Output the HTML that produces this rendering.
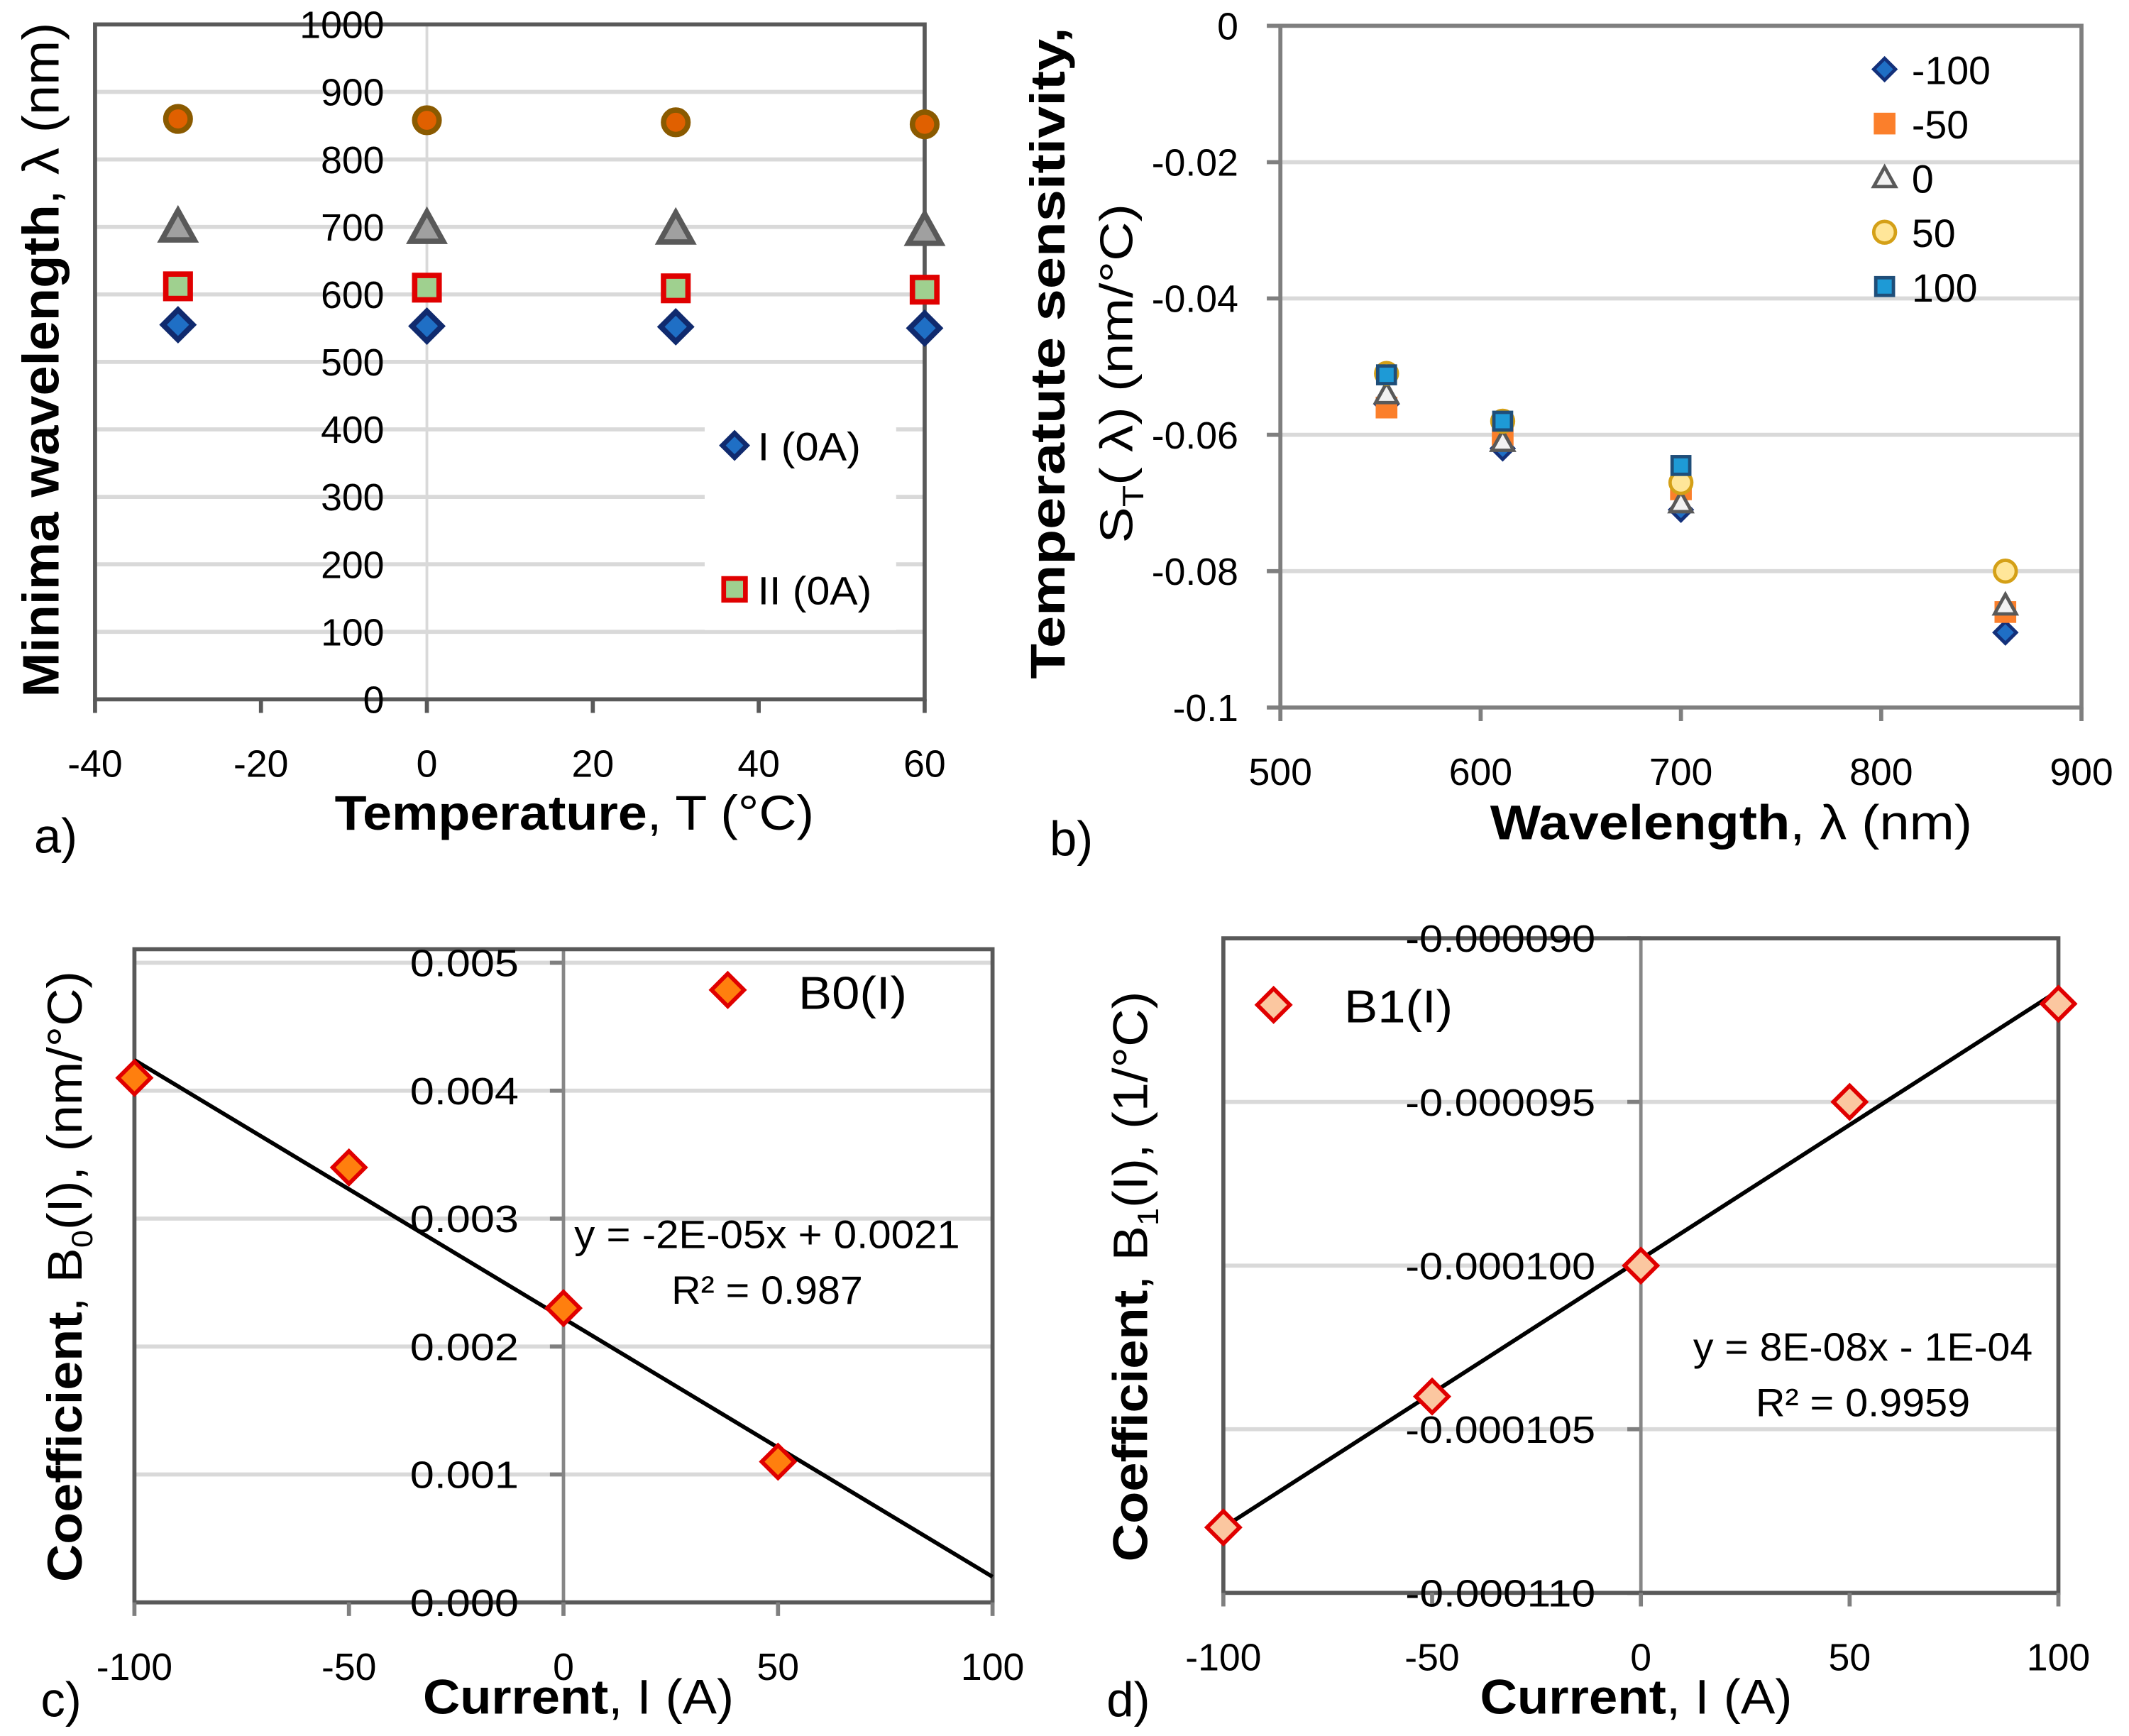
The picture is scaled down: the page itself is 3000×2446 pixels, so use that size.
<!DOCTYPE html>
<html><head><meta charset="utf-8"><style>
html,body{margin:0;padding:0;background:#fff;}
svg{display:block;font-family:"Liberation Sans",sans-serif;}
</style></head><body>
<svg id="fig" width="3000" height="2446" viewBox="0 0 1568 1278.4" preserveAspectRatio="none" xmlns="http://www.w3.org/2000/svg">
<g id="pa"></g>
<g id="pb"></g>
<g id="pc"></g>
<g id="pd"></g>
</svg>
<script>
// ---------- Panel a data ----------
const aTemps = [-30, 0, 30, 60];
const aDiamond = [555, 553, 552, 550];
const aSquare = [612, 610, 609, 607];
const aTriangle = [700, 698, 697, 695];
const aCircle = [860, 858, 855, 852];
const aXTicks = [-40, -20, 0, 20, 40, 60];
const aYTicks = [0, 100, 200, 300, 400, 500, 600, 700, 800, 900, 1000];
// ---------- Panel b data ----------
const bWave = [553, 611, 700, 862];
const bM100 = [-0.0555, -0.062, -0.071, -0.089];
const bM50 = [-0.0560, -0.060, -0.068, -0.086];
const bZero = [-0.0540, -0.061, -0.070, -0.085];
const bP50 = [-0.0510, -0.058, -0.067, -0.080];
const bP100 = [-0.0512, -0.058, -0.0645, null];
const bXTicks = [500, 600, 700, 800, 900];
const bYTicks = [0, -0.02, -0.04, -0.06, -0.08, -0.1];
const bYLabels = ["0", "-0.02", "-0.04", "-0.06", "-0.08", "-0.1"];
const bLegend = ["-100", "-50", "0", "50", "100"];
// ---------- Panel c data ----------
const cCurrent = [-100, -50, 0, 50];
const cB0 = [0.0041, 0.0034, 0.0023, 0.0011];
const cXTicks = [-100, -50, 0, 50, 100];
const cYTicks = [0, 0.001, 0.002, 0.003, 0.004, 0.005];
const cYLabels = ["0.000", "0.001", "0.002", "0.003", "0.004", "0.005"];
// ---------- Panel d data ----------
const dCurrent = [-100, -50, 0, 50, 100];
const dB1 = [-0.000108, -0.000104, -0.000100, -0.000095, -0.000092];
const dXTicks = [-100, -50, 0, 50, 100];
const dYTicks = [-0.000110, -0.000105, -0.000100, -0.000095, -0.000090];
const dYLabels = ["-0.000110", "-0.000105", "-0.000100", "-0.000095", "-0.000090"];

const NS = "http://www.w3.org/2000/svg";
function mk(parent, tag, attrs, txt) {
  const e = document.createElementNS(NS, tag);
  for (const k in attrs) e.setAttribute(k, attrs[k]);
  if (txt !== undefined) e.textContent = txt;
  parent.appendChild(e);
  return e;
}
function lin(d0, d1, r0, r1) { return v => r0 + (v - d0) * (r1 - r0) / (d1 - d0); }
function marker(g, type, x, y, s, fill, stroke, sw) {
  let e;
  if (type === "diamond") e = mk(g, "polygon", {points: `${x},${y-s} ${x+s},${y} ${x},${y+s} ${x-s},${y}`, fill, stroke, "stroke-width": sw});
  else if (type === "square") e = mk(g, "rect", {x: x-s, y: y-s, width: 2*s, height: 2*s, fill, stroke, "stroke-width": sw});
  else if (type === "triangle") e = mk(g, "polygon", {points: `${x},${y-s} ${x+s},${y+s*0.8} ${x-s},${y+s*0.8}`, fill, stroke, "stroke-width": sw});
  else e = mk(g, "circle", {cx: x, cy: y, r: s, fill, stroke, "stroke-width": sw});
  return e;
}
function txt(g, x, y, s, opts) {
  return mk(g, "text", Object.assign({x, y, "font-size": 28, fill: "#000"}, opts || {}), s);
}
function fitLen(opts, len) {
  return Object.assign(opts, {textLength: len, lengthAdjust: "spacingAndGlyphs"});
}

// ================= Panel a =================
(function(){
  const g = document.getElementById("pa");
  const X = lin(-40, 60, 70, 681), Y = lin(0, 1000, 515, 18);
  aYTicks.forEach(v => {
    if (v === 0 || v === 1000) return;
    const l = mk(g, "line", {x1: 70, x2: 681, y1: Y(v), y2: Y(v), stroke: "#d9d9d9", "stroke-width": 3});
    
    
  });
  const vz = mk(g, "line", {x1: X(0), x2: X(0), y1: 18, y2: 515, stroke: "#d9d9d9", "stroke-width": 2});
  
  
  const lb = mk(g, "rect", {x: 519, y: 296, width: 141, height: 168, fill: "#fff"});
  
  
  const fr = mk(g, "rect", {x: 70, y: 18, width: 611, height: 497, fill: "none", stroke: "#595959", "stroke-width": 3});
  
  
  aXTicks.forEach(v => {
    const t = mk(g, "line", {x1: X(v), x2: X(v), y1: 515, y2: 525, stroke: "#595959", "stroke-width": 3});
    
    
    const l = txt(g, X(v), 572, String(v), {"text-anchor": "middle"});
    
    
  });
  aYTicks.forEach(v => {
    const l = txt(g, 283, Y(v) + 10, String(v), {"text-anchor": "end"});
    
    
  });
  const series = [
    [aDiamond, "diamond", 11, "#1f6fc5", "#102a6e", 4],
    [aSquare, "square", 9, "#9fd08f", "#e00000", 4],
    [aTriangle, "triangle", 12, "#a0a0a0", "#595959", 4],
    [aCircle, "circle", 9, "#e06000", "#8a5a00", 4]
  ];
  series.forEach(s => {
    s[0].forEach((v, i) => {
      const m = marker(g, s[1], X(aTemps[i]), Y(v), s[2], s[3], s[4], s[5]);
      
      
    });
  });
  const m1 = marker(g, "diamond", 541, 328, 9, "#1f6fc5", "#102a6e", 3.5);
  
  
  const t1 = txt(g, 558, 339, "I (0A)", fitLen({"font-size": 29}, 76));
  
  
  const m2 = marker(g, "square", 541, 434, 8, "#9fd08f", "#e00000", 3.5);
  
  
  const t2 = txt(g, 558, 445, "II (0A)", fitLen({"font-size": 29}, 84));
  
  
  const xt = txt(g, 423, 611, "", fitLen({"text-anchor": "middle", "font-size": 36}, 353));
  xt.innerHTML = '<tspan font-weight="bold">Temperature</tspan>, T (°C)';
  
  
  const yt = txt(g, 0, 0, "", fitLen({"text-anchor": "middle", "font-size": 38, transform: "translate(43,265) rotate(-90)"}, 497));
  yt.innerHTML = '<tspan font-weight="bold">Minima wavelength</tspan>, λ (nm)';
  
  
  const pl = txt(g, 25, 628, "a)", {"font-size": 36});
  
  
})();

// ================= Panel b =================
(function(){
  const g = document.getElementById("pb");
  const X = lin(500, 900, 943, 1533), Y = lin(0, -0.1, 19, 521);
  bYTicks.forEach(v => {
    if (v !== 0 && v !== -0.1) {
      const l = mk(g, "line", {x1: 943, x2: 1533, y1: Y(v), y2: Y(v), stroke: "#d9d9d9", "stroke-width": 3});
      
      
    }
    const t = mk(g, "line", {x1: 933, x2: 943, y1: Y(v), y2: Y(v), stroke: "#7f7f7f", "stroke-width": 3});
    
    
  });
  const fr = mk(g, "rect", {x: 943, y: 19, width: 590, height: 502, fill: "none", stroke: "#7f7f7f", "stroke-width": 3});
  
  
  bXTicks.forEach(v => {
    const t = mk(g, "line", {x1: X(v), x2: X(v), y1: 521, y2: 531, stroke: "#7f7f7f", "stroke-width": 3});
    
    
    const l = txt(g, X(v), 578, String(v), {"text-anchor": "middle"});
    
    
  });
  bYTicks.forEach((v, i) => {
    const l = txt(g, 912, Y(v) + 10, bYLabels[i], {"text-anchor": "end"});
    
    
  });
  const series = [
    [bM100, "diamond", 8, "#1f6fc5", "#13307a", 2.5],
    [bM50, "square", 8, "#fb7f2b", "none", 0],
    [bZero, "triangle", 8, "#f2f2f2", "#595959", 2.5],
    [bP50, "circle", 8, "#ffe699", "#d4a017", 2.5],
    [bP100, "square", 6.5, "#1e9ad6", "#1f4e79", 2.5]
  ];
  series.forEach((s, si) => {
    s[0].forEach((v, i) => {
      if (v === null) return;
      const m = marker(g, s[1], X(bWave[i]), Y(v), s[2], s[3], s[4], s[5]);
      
      
    });
    const ly = 51 + 40 * si;
    const lm = marker(g, s[1], 1388, ly, s[2], s[3], s[4], s[5]);
    
    
    const lt = txt(g, 1408, ly + 11, bLegend[si], {"font-size": 29});
    
    
  });
  const xt = txt(g, 1275, 618, "", fitLen({"text-anchor": "middle", "font-size": 36}, 355));
  xt.innerHTML = '<tspan font-weight="bold">Wavelength</tspan>, λ (nm)';
  
  
  const yt1 = txt(g, 0, 0, "Temperatute sensitivity,", fitLen({"text-anchor": "middle", "font-size": 36, "font-weight": "bold", transform: "translate(784,260) rotate(-90)"}, 480));
  
  
  const yt2 = txt(g, 0, 0, "", fitLen({"text-anchor": "middle", "font-size": 34, transform: "translate(834,275) rotate(-90)"}, 250));
  yt2.innerHTML = 'S<tspan font-size="22" dy="8">T</tspan><tspan dy="-8">( λ) (nm/°C)</tspan>';
  
  
  const pl = txt(g, 773, 630, "b)", {"font-size": 36});
  
  
})();

function fit(xs, ys) {
  const n = xs.length;
  const mx = xs.reduce((a, b) => a + b, 0) / n, my = ys.reduce((a, b) => a + b, 0) / n;
  let sxy = 0, sxx = 0;
  for (let i = 0; i < n; i++) { sxy += (xs[i] - mx) * (ys[i] - my); sxx += (xs[i] - mx) ** 2; }
  const m = sxy / sxx;
  return {m, b: my - m * mx};
}

// ================= Panel c =================
(function(){
  const g = document.getElementById("pc");
  const X = lin(-100, 100, 99, 731), Y = lin(0, 0.005, 1180, 709);
  cYTicks.forEach(v => {
    if (v !== 0) {
      const l = mk(g, "line", {x1: 99, x2: 731, y1: Y(v), y2: Y(v), stroke: "#d9d9d9", "stroke-width": 3});
      
      
    }
    const t = mk(g, "line", {x1: X(0) - 10, x2: X(0), y1: Y(v), y2: Y(v), stroke: "#7f7f7f", "stroke-width": 3});
    
    
  });
  const za = mk(g, "line", {x1: X(0), x2: X(0), y1: 699, y2: 1180, stroke: "#868686", "stroke-width": 2.5});
  
  
  const fr = mk(g, "rect", {x: 99, y: 699, width: 632, height: 481, fill: "none", stroke: "#595959", "stroke-width": 3});
  
  
  cXTicks.forEach(v => {
    const t = mk(g, "line", {x1: X(v), x2: X(v), y1: 1180, y2: 1190, stroke: "#7f7f7f", "stroke-width": 3});
    
    
    const l = txt(g, X(v), 1237, String(v), {"text-anchor": "middle"});
    
    
  });
  cYTicks.forEach((v, i) => {
    const l = txt(g, 382, Y(v) + 10, cYLabels[i], fitLen({"text-anchor": "end"}, 80));
    
    
  });
  const f = fit(cCurrent, cB0);
  const tl = mk(g, "line", {x1: X(-100), y1: Y(f.m * -100 + f.b), x2: X(100), y2: Y(f.m * 100 + f.b), stroke: "#000", "stroke-width": 3});
  
  
  cB0.forEach((v, i) => {
    const m = marker(g, "diamond", X(cCurrent[i]), Y(v), 12, "#ff7f0e", "#e00000", 3);
    
    
  });
  const lm = marker(g, "diamond", 536, 729, 12, "#ff7f0e", "#e00000", 3);
  
  
  const lt = txt(g, 588, 743, "B0(I)", fitLen({"font-size": 34}, 80));
  
  
  const e1 = txt(g, 565, 919, "y = -2E-05x + 0.0021", fitLen({"text-anchor": "middle", "font-size": 29}, 284));
  
  
  const e2 = txt(g, 565, 960, "R² = 0.987", fitLen({"text-anchor": "middle", "font-size": 29}, 141));
  
  
  const xt = txt(g, 426, 1262, "", fitLen({"text-anchor": "middle", "font-size": 36}, 229));
  xt.innerHTML = '<tspan font-weight="bold">Current</tspan>, I (A)';
  
  
  const yt = txt(g, 0, 0, "", fitLen({"text-anchor": "middle", "font-size": 36, transform: "translate(60,940) rotate(-90)"}, 450));
  yt.innerHTML = '<tspan font-weight="bold">Coefficient</tspan>, B<tspan font-size="22" dy="8">0</tspan><tspan dy="-8">(I), (nm/°C)</tspan>';
  
  
  const pl = txt(g, 30, 1264, "c)", {"font-size": 36});
  
  
})();

// ================= Panel d =================
(function(){
  const g = document.getElementById("pd");
  const X = lin(-100, 100, 901, 1516), Y = lin(-0.000110, -0.000090, 1173, 691);
  dYTicks.forEach(v => {
    if (v !== -0.000110 && v !== -0.000090) {
      const l = mk(g, "line", {x1: 901, x2: 1516, y1: Y(v), y2: Y(v), stroke: "#d9d9d9", "stroke-width": 3});
      
      
    }
    const t = mk(g, "line", {x1: X(0) - 10, x2: X(0), y1: Y(v), y2: Y(v), stroke: "#7f7f7f", "stroke-width": 3});
    
    
  });
  const za = mk(g, "line", {x1: X(0), x2: X(0), y1: 691, y2: 1173, stroke: "#868686", "stroke-width": 2.5});
  
  
  const fr = mk(g, "rect", {x: 901, y: 691, width: 615, height: 482, fill: "none", stroke: "#595959", "stroke-width": 3});
  
  
  dXTicks.forEach(v => {
    const t = mk(g, "line", {x1: X(v), x2: X(v), y1: 1173, y2: 1183, stroke: "#7f7f7f", "stroke-width": 3});
    
    
    const l = txt(g, X(v), 1230, String(v), {"text-anchor": "middle"});
    
    
  });
  dYTicks.forEach((v, i) => {
    const l = txt(g, 1175, Y(v) + 10, dYLabels[i], fitLen({"text-anchor": "end"}, 140));
    
    
  });
  const f = fit(dCurrent, dB1);
  const tl = mk(g, "line", {x1: X(-100), y1: Y(f.m * -100 + f.b), x2: X(100), y2: Y(f.m * 100 + f.b), stroke: "#000", "stroke-width": 3});
  
  
  dB1.forEach((v, i) => {
    const m = marker(g, "diamond", X(dCurrent[i]), Y(v), 12, "#fbc7a0", "#e00000", 3);
    
    
  });
  const lm = marker(g, "diamond", 938, 740, 12, "#fbc7a0", "#e00000", 3);
  
  
  const lt = txt(g, 990, 753, "B1(I)", fitLen({"font-size": 34}, 80));
  
  
  const e1 = txt(g, 1372, 1002, "y = 8E-08x - 1E-04", fitLen({"text-anchor": "middle", "font-size": 29}, 250));
  
  
  const e2 = txt(g, 1372, 1043, "R² = 0.9959", fitLen({"text-anchor": "middle", "font-size": 29}, 158));
  
  
  const xt = txt(g, 1205, 1262, "", fitLen({"text-anchor": "middle", "font-size": 36}, 230));
  xt.innerHTML = '<tspan font-weight="bold">Current</tspan>, I (A)';
  
  
  const yt = txt(g, 0, 0, "", fitLen({"text-anchor": "middle", "font-size": 36, transform: "translate(845,940) rotate(-90)"}, 420));
  yt.innerHTML = '<tspan font-weight="bold">Coefficient</tspan>, B<tspan font-size="22" dy="8">1</tspan><tspan dy="-8">(I), (1/°C)</tspan>';
  
  
  const pl = txt(g, 815, 1264, "d)", {"font-size": 36});
  
  
})();
</script>
</body></html>
